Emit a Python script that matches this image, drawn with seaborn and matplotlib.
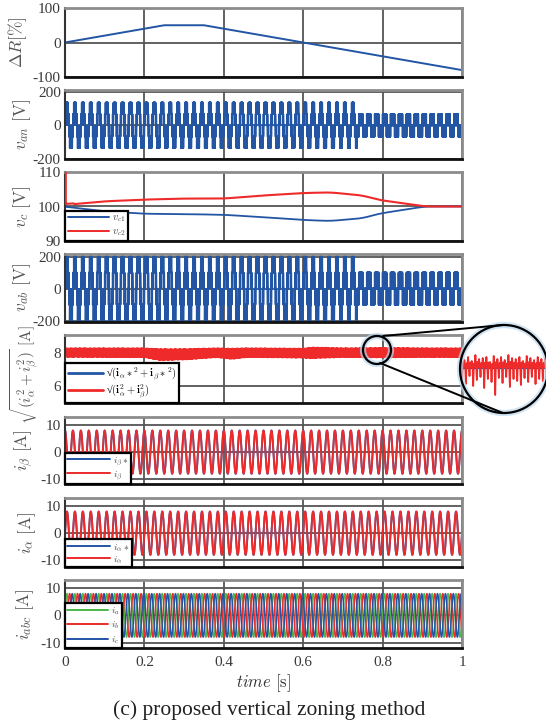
import numpy as np
import pandas as pd
import matplotlib
matplotlib.use("Agg")
import matplotlib.pyplot as plt
import seaborn as sns
from matplotlib.patches import Ellipse
from matplotlib.lines import Line2D

# ---------------- data ----------------
t_dR = [0.0, 0.25, 0.35, 1.0]
dR = [0, 50, 50, -80]

f_grid = 50.0          # Hz, fundamental of all waveforms
fc_pwm = 2000.0        # Hz, carrier
van_step = 67.5
van_env_t = [0.0, 0.6, 0.735, 0.736, 1.0]
van_env_a = [128, 126, 108, 63, 63]
vab_step = 100.0
vab_env_t = [0.0, 0.6, 0.735, 0.736, 1.0]
vab_env_a = [180, 178, 166, 93, 93]

vc_t = [0.0, 0.004, 0.1, 0.2, 0.3, 0.4, 0.5, 0.6, 0.667, 0.75, 0.79, 0.85, 0.907, 1.0]
vc1 = [100, 99.9, 98.6, 97.9, 97.8, 97.6, 96.9, 96.1, 95.8, 96.6, 97.9, 99.0, 100, 100]
vc2 = [110, 100.5, 101.5, 102.0, 102.3, 102.3, 103.2, 103.9, 104.1, 103.2, 101.9, 101.0, 100, 100]

ir_env_t = [0.0, 0.2, 0.24, 0.3, 0.38, 0.42, 0.46, 0.6, 0.62, 0.7, 0.8, 0.9, 1.0]
ir_upper = [8.32, 8.32, 8.27, 8.27, 8.32, 8.30, 8.32, 8.30, 8.37, 8.32, 8.34, 8.32, 8.32]
ir_lower = [7.76, 7.74, 7.56, 7.60, 7.74, 7.64, 7.75, 7.71, 7.68, 7.75, 7.73, 7.75, 7.75]
ir_start = 6.8
i_ref_mag = 8.0

i_amp = 8.0
i_labels_abc = [r"$i_a$", r"$i_b$", r"$i_c$"]
i_phase_abc = [0.0, -120.0, 120.0]

# zoom-inset ripple (pixel offsets from circle centre, y up)
inset_up = [13, 9, 12, 8, 14, 10, 11, 12, 7, 13, 10, 12, 9, 14, 11, 10, 12, 8, 13, 11, 9, 12, 10, 11]
inset_dn = [-9, -15, -7, -17, -11, -8, -19, -10, -13, -26, -9, -14, -8, -18, -10, -12, -16, -9, -13, -8, -15, -10, -12, -9]

xticks = [0, 0.2, 0.4, 0.6, 0.8, 1.0]
xtick_labels = ["0", "0.2", "0.4", "0.6", "0.8", "1"]

BLUE = "#2255a4"
RED = "#ee2a2a"
GREEN = "#4cb848"

# ---------------- style ----------------
sns.set_theme(style="white")
plt.rcParams["font.family"] = ["Liberation Serif", "DejaVu Serif"]
plt.rcParams["mathtext.fontset"] = "cm"
plt.rcParams["axes.unicode_minus"] = False

W, H = 546, 727
fig = plt.figure(figsize=(W / 100, H / 100), dpi=100)

panels_px = [(8, 77), (90, 159), (172, 241), (254, 322), (335, 403), (417, 484), (498, 567), (580, 648)]
L, R = 65, 462
axes = []
for (top, bot) in panels_px:
    ax = fig.add_axes([L / W, 1 - bot / H, (R - L) / W, (bot - top) / H])
    axes.append(ax)


def pwm_wave(t, env_t, env_a, step):
    amp = np.interp(t, env_t, env_a)
    ref = amp * np.sin(2 * np.pi * f_grid * t) / step
    carrier = 2 * np.abs((t * fc_pwm) % 1.0 - 0.5)
    base = np.floor(ref)
    frac = ref - base
    return step * (base + (frac > carrier))


def smooth(y, n):
    pad = np.concatenate([np.full(n, y[0]), y, np.full(n, y[-1])])
    ker = np.ones(2 * n + 1) / (2 * n + 1)
    return np.convolve(pad, ker, mode="same")[n:-n]


def style_axis(ax, ylim, yticks, ylabel, xlab_px, lab_size=12.5, lab_y=0.5):
    ax.set_xlim(0, 1)
    ax.set_ylim(*ylim)
    ax.set_yticks(yticks)
    ax.set_xticks(xticks)
    ax.set_axisbelow(True)
    ax.grid(True, color="#555555", lw=1.3)
    for s in ["top", "right"]:
        ax.spines[s].set_color("#8c8c8c")
        ax.spines[s].set_linewidth(2.0)
    ax.spines["left"].set_color("#333333")
    ax.spines["left"].set_linewidth(1.5)
    ax.spines["bottom"].set_color("#111111")
    ax.spines["bottom"].set_linewidth(2.0)
    ax.tick_params(axis="both", direction="in", length=3, width=1.2, colors="#222222",
                   labelsize=11, labelcolor="#3a3a3a", pad=3)
    ax.tick_params(axis="x", labelbottom=False)
    ax.set_xlabel("")
    ax.set_ylabel(ylabel, fontsize=lab_size, color="#555555", va="center")
    ax.yaxis.set_label_coords((xlab_px - L) / (R - L), lab_y)


def add_legend(ax, handles, labels, fontsize=7.0, color="#444444", hl=4.4, weight="normal",
               spacing=0.1):
    leg = ax.legend(handles, labels, loc="lower left", borderaxespad=0, frameon=True,
                    fancybox=False, framealpha=1, edgecolor="black",
                    handlelength=hl, handletextpad=0.3, borderpad=0.25, labelspacing=spacing,
                    labelcolor=color, prop={"weight": weight, "size": fontsize})
    leg.get_frame().set_linewidth(1.6)
    leg.set_zorder(10)
    return leg


# ---- panel 1: delta R
ax = axes[0]
sns.lineplot(x=t_dR, y=dR, ax=ax, color=BLUE, lw=1.4, estimator=None, sort=False)
style_axis(ax, (-100, 100), [-100, 0, 100], r"$\Delta R[\%]$", 18)

# ---- panel 2: v_an
t_pwm = np.linspace(0, 1, 40001)
ax = axes[1]
sns.lineplot(x=t_pwm, y=pwm_wave(t_pwm, van_env_t, van_env_a, van_step), ax=ax,
             color=BLUE, lw=1.3, estimator=None, sort=False)
style_axis(ax, (-200, 210), [-200, 0, 200], r"$v_{an}\ [\mathrm{V}]$", 22)

# ---- panel 3: v_c
t_s = np.linspace(0, 1, 2001)
ax = axes[2]
vc1_s = smooth(np.interp(t_s, vc_t, vc1), 40)
vc2_raw = np.interp(t_s, vc_t, vc2)
vc2_raw[:3] = vc2[1]
vc2_s = smooth(vc2_raw, 40)
vc2_s = np.concatenate([[vc2[0]], vc2_s])
t_s2 = np.concatenate([[0.002], t_s + 0.002 * (t_s < 0.001)])
sns.lineplot(x=t_s, y=vc1_s, ax=ax, color=BLUE, lw=1.3, estimator=None, sort=False)
sns.lineplot(x=t_s2, y=vc2_s, ax=ax, color=RED, lw=1.5, estimator=None, sort=False)
ax.lines[-1].set_zorder(3)
style_axis(ax, (90, 110), [90, 100, 110], r"$v_c\ [\mathrm{V}]$", 22)
add_legend(ax, [Line2D([], [], color=BLUE, lw=1.4), Line2D([], [], color=RED, lw=1.4)],
           [r"$v_{c1}$", r"$v_{c2}$"], fontsize=7.5, hl=4.0, spacing=0.3)

# ---- panel 4: v_ab
ax = axes[3]
sns.lineplot(x=t_pwm, y=pwm_wave(t_pwm, vab_env_t, vab_env_a, vab_step), ax=ax,
             color=BLUE, lw=1.3, estimator=None, sort=False)
style_axis(ax, (-208, 216), [-200, 0, 200], r"$v_{ab}\ [\mathrm{V}]$", 22)

# ---- panel 5: current magnitude
n5 = 3000
t5 = np.linspace(0, 1, n5)
up5 = np.interp(t5, ir_env_t, ir_upper)
lo5 = np.interp(t5, ir_env_t, ir_lower)
k = np.arange(n5)
w5 = 0.55 + 0.45 * ((k * 0.6180339) % 1.0)
mid5 = (up5 + lo5) / 2
half5 = (up5 - lo5) / 2
y5 = np.where(k % 2 == 0, mid5 + half5 * w5, mid5 - half5 * w5)
y5[0] = ir_start
t5p = t5.copy()
t5p[0] = 0.002
ax = axes[4]
sns.lineplot(x=[0, 1], y=[i_ref_mag, i_ref_mag], ax=ax, color=BLUE, lw=1.4, estimator=None)
sns.lineplot(x=t5p, y=y5, ax=ax, color=RED, lw=1.1, estimator=None, sort=False)
style_axis(ax, (5.0, 9.1), [6, 8], r"$\sqrt{(i_\alpha^2+i_\beta^2)}\ [\mathrm{A}]$", 25,
           lab_size=11, lab_y=0.42)
add_legend(ax, [Line2D([], [], color=BLUE, lw=2), Line2D([], [], color=RED, lw=2)],
           ["\u221a" + r"$(\mathbf{i}_\alpha*^2+\mathbf{i}_\beta*^2)$",
            "\u221a" + r"$(\mathbf{i}_\alpha^2+\mathbf{i}_\beta^2)$"],
           fontsize=7.5, color="black", hl=3.4, weight="bold", spacing=0.05)

# ---- panel 6/7: i_beta, i_alpha
t_i = np.linspace(0, 1, 5001)
ib = i_amp * np.cos(2 * np.pi * f_grid * t_i)
ia = i_amp * np.sin(2 * np.pi * f_grid * t_i)
for ax, sig, lab, lref, lmeas, ylim, xp in [
        (axes[5], ib, r"$i_\beta\ [\mathrm{A}]$", r"$i_\beta*$", r"$i_\beta$", (-11.8, 13.0), 24),
        (axes[6], ia, r"$i_\alpha\ [\mathrm{A}]$", r"$i_\alpha*$", r"$i_\alpha$", (-12.5, 13.0), 27)]:
    sns.lineplot(x=t_i, y=sig, ax=ax, color=BLUE, lw=1.4, estimator=None, sort=False)
    sns.lineplot(x=t_i, y=sig, ax=ax, color=RED, lw=1.3, estimator=None, sort=False)
    style_axis(ax, ylim, [-10, 0, 10], lab, xp)
    add_legend(ax, [Line2D([], [], color=BLUE, lw=1.4), Line2D([], [], color=RED, lw=1.4)],
               [lref, lmeas])

# ---- panel 8: i_abc
ax = axes[7]
abc_colors = [GREEN, RED, BLUE]
for ph, col in zip(i_phase_abc, abc_colors):
    sns.lineplot(x=t_i, y=i_amp * np.sin(2 * np.pi * f_grid * t_i + np.deg2rad(ph)), ax=ax,
                 color=col, lw=1.1, estimator=None, sort=False)
style_axis(ax, (-12.0, 13.0), [-10, 0, 10], r"$i_{abc}\ [\mathrm{A}]$", 25)
add_legend(ax, [Line2D([], [], color=c, lw=1.4) for c in abc_colors], i_labels_abc, hl=4.2,
           spacing=0.25)
ax.tick_params(axis="x", labelbottom=True, pad=6)
ax.set_xticklabels(xtick_labels)
ax.set_xlabel(r"$time\ [\mathrm{s}]$", fontsize=12, color="#333333", labelpad=2)

# ---- zoom inset on panel 5
cx, cy, r = 504, 369, 44
sx, sy, sr = 377, 350, 14
for (x0, y0, rr) in [(cx, cy, r), (sx, sy, sr)]:
    glow = Ellipse((x0 / W, 1 - y0 / H), 2 * rr / W, 2 * rr / H, transform=fig.transFigure,
                   fill=False, edgecolor="#bcd8ee", lw=4.5, alpha=0.7, zorder=20)
    fig.patches.append(glow)
    circ = Ellipse((x0 / W, 1 - y0 / H), 2 * rr / W, 2 * rr / H, transform=fig.transFigure,
                   fill=False, edgecolor="black", lw=1.6, zorder=22)
    fig.patches.append(circ)
for (p1, p2) in [((383, 336), (503, 325)), ((380, 363), (503, 413))]:
    fig.lines.append(Line2D([p1[0] / W, p2[0] / W], [1 - p1[1] / H, 1 - p2[1] / H],
                            transform=fig.transFigure, color="black", lw=1.4, zorder=21))

ax_in = fig.add_axes([(cx - r) / W, 1 - (cy + r) / H, 2 * r / W, 2 * r / H], zorder=15)
ax_in.set_xlim(-r, r)
ax_in.set_ylim(-r, r)
ax_in.axis("off")
bg = Ellipse((0.5, 0.5), 1, 1, transform=ax_in.transAxes, facecolor="white", edgecolor="none")
ax_in.add_patch(bg)
n_in = len(inset_up)
xs_in, ys_in = [], []
for i in range(n_in):
    x0 = -r + 2 * r * i / n_in
    dx = 2 * r / n_in
    xs_in += [x0, x0 + 0.2 * dx, x0 + 0.45 * dx, x0 + 0.6 * dx, x0 + 0.8 * dx]
    ys_in += [2, inset_up[i], 0, inset_dn[i], 3 + 0.3 * inset_up[i]]
xs_in.append(r)
ys_in.append(2)
ax_in.plot([-r, r], [1, 1], color=BLUE, lw=0.8)
sns.lineplot(x=xs_in, y=ys_in, ax=ax_in, color=RED, lw=1.3, estimator=None, sort=False)
for ln in ax_in.lines:
    ln.set_clip_path(bg)

fig.text(269 / W, 1 - 710 / H, "(c) proposed vertical zoning method",
         ha="center", va="center", fontsize=15.5, color="#222222")

fig.savefig("out.png", dpi=100)
